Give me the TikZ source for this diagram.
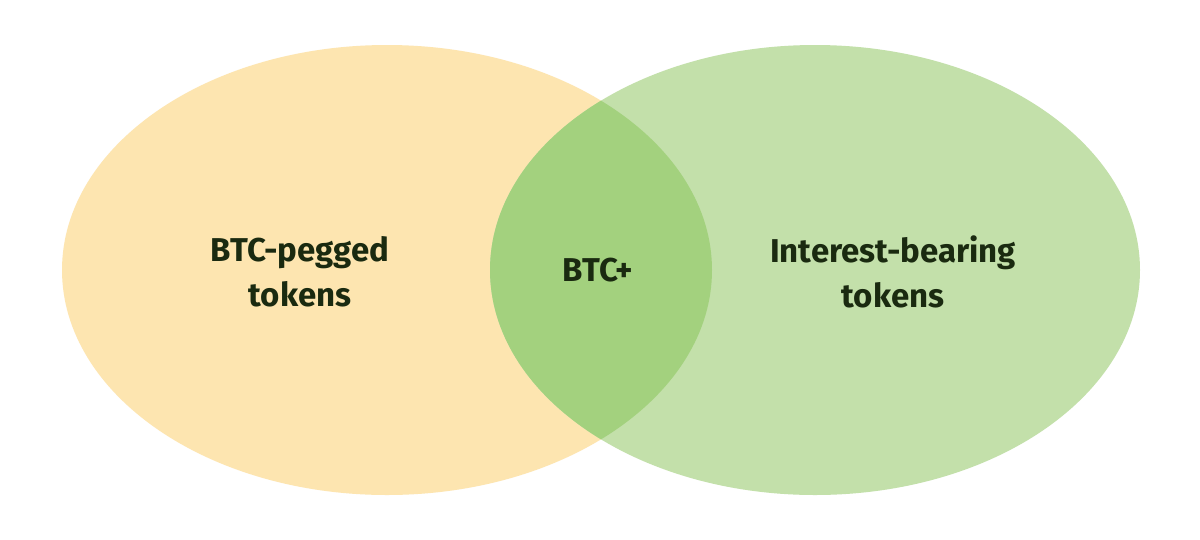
\documentclass[tikz,border=0pt]{standalone}
\usepackage{fontspec}
\setmainfont{Fira Sans}
\definecolor{lefty}{HTML}{FDE5B0}
\definecolor{righty}{HTML}{C3E0AA}
\definecolor{both}{HTML}{A3D17E}
\definecolor{ink}{HTML}{1A2A10}
\begin{document}
\begin{tikzpicture}[x=1pt,y=-1pt,
  lbl/.style={text=ink,font=\fontsize{33}{45}\selectfont\bfseries,align=center,inner sep=0pt}]
\useasboundingbox (0,0) rectangle (1200,539);
\fill[white] (0,0) rectangle (1200,539);
\fill[lefty] (387,270) ellipse [x radius=325, y radius=225];
\fill[righty] (815,270) ellipse [x radius=325, y radius=225];
\begin{scope}
\clip (387,270) ellipse [x radius=325, y radius=225];
\fill[both] (815,270) ellipse [x radius=325, y radius=225];
\end{scope}
\node[lbl] (a) at (300,272) {BTC-pegged\\tokens};
\node[lbl] (b) at (598,270) {BTC+};
\node[lbl] (c) at (893,272) {Interest-bearing\\tokens};
\end{tikzpicture}
\end{document}
